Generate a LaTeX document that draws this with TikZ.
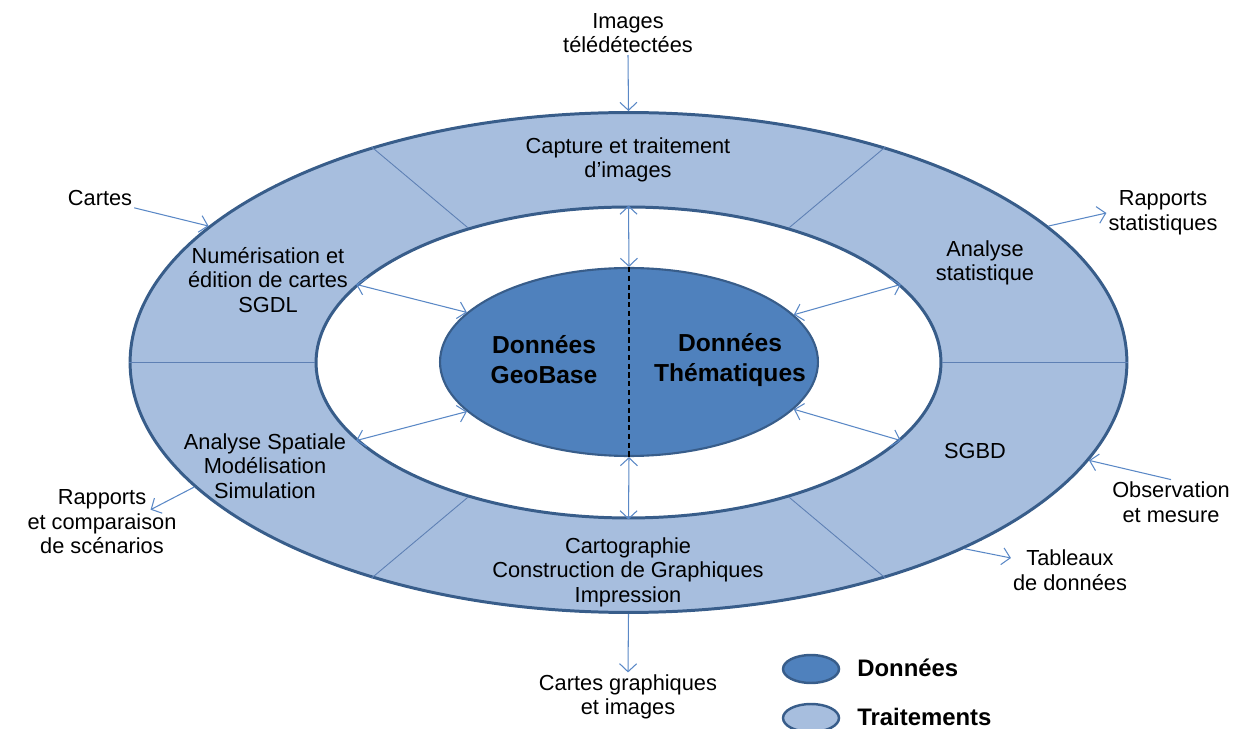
\documentclass[tikz,border=0pt]{standalone}
\usepackage{fontspec}
\setmainfont{Liberation Sans}
\usepackage{tikz}
\usetikzlibrary{shapes, arrows.meta, positioning}
\definecolor{ringfill}{HTML}{A7BEDE}
\definecolor{datafill}{HTML}{4F81BD}
\definecolor{edgeblue}{HTML}{385D8A}
\definecolor{arrowblue}{HTML}{5A88C6}
\definecolor{splitblue}{HTML}{5E80B4}
\tikzstyle{ring} = [ellipse, draw=edgeblue, line width=1.7pt, inner sep=0pt]
\tikzstyle{txt} = [align=center, inner sep=1pt]
\tikzstyle{bigtxt} = [align=center, font=\fontsize{14}{17}\selectfont\bfseries]
\tikzstyle{arrow} = [-{Straight Barb[length=1.6mm, width=3.4mm]}, draw=arrowblue, line width=0.6pt]
\tikzstyle{twoway} = [{Straight Barb[length=1.6mm, width=3.4mm]}-{Straight Barb[length=1.6mm, width=3.4mm]}, draw=arrowblue, line width=0.6pt]
\tikzstyle{split} = [draw=splitblue, line width=0.5pt]

\begin{document}
\begin{tikzpicture}[x=0.02cm, y=-0.02cm, font=\fontsize{12.4}{14}\selectfont]

    \useasboundingbox (0, 0) rectangle (1235, 729);

    \node (outer) [ring, fill=ringfill, minimum width=19.94cm, minimum height=10cm] at (628.5, 362.5) {};
    \node (inner) [ring, fill=white, minimum width=12.5cm, minimum height=6.22cm] at (628.5, 362.5) {};

    \draw [split] (inner.0) -- (outer.0);
    \draw [split] (inner.180) -- (outer.180);
    \draw [split] (inner.40) -- (outer.40);
    \draw [split] (inner.140) -- (outer.140);
    \draw [split] (inner.220) -- (outer.220);
    \draw [split] (inner.320) -- (outer.320);

    \node (core) [ellipse, draw=edgeblue, line width=1.2pt, fill=datafill, inner sep=0pt, minimum width=7.56cm, minimum height=3.76cm] at (629, 362) {};
    \draw [densely dashed, line width=0.6pt] (core.north) -- (core.south);

    \node (geo) [bigtxt] at (544, 360) {Données\\GeoBase};
    \node (them) [bigtxt] at (730, 360) {Données\\Thématiques};

    \node (capt) [txt] at (628, 160) {Capture et traitement\\d’images};
    \node (numer) [txt] at (268, 280) {Numérisation et\\édition de cartes\\SGDL};
    \node (astat) [txt] at (985, 263) {Analyse\\statistique};
    \node (sgbd) [txt] at (975, 451) {SGBD};
    \node (aspat) [txt] at (265, 466) {Analyse Spatiale\\Modélisation\\Simulation};
    \node (carto) [txt] at (628, 572) {Cartographie\\Construction de Graphiques\\Impression};

    \node (img) [txt] at (628, 33) {Images\\télédétectées};
    \node (cartes) [txt] at (100, 198) {Cartes};
    \node (rstat) [txt] at (1163, 213) {Rapports\\statistiques};
    \node (obs) [txt] at (1171, 502) {Observation\\et mesure};
    \node (tab) [txt] at (1070, 570) {Tableaux\\de données};
    \node (cgraph) [txt] at (628, 697) {Cartes graphiques\\et images};
    \node (rcomp) [txt] at (102, 522) {Rapports\\et comparaison\\de scénarios};

    \draw [arrow] (img.south) -- (outer.north);
    \draw [arrow] (cartes.south east) -- (outer.162);
    \draw [arrow] (outer.18) -- (rstat.west);
    \draw [arrow] (obs.north) -- (outer.-12);
    \draw [arrow] (outer.-29) -- ([yshift=0.24cm]tab.west);
    \draw [arrow] (outer.196) -- ([xshift=-0.56cm, yshift=-0.44cm]rcomp.north east);
    \draw [arrow] (outer.south) -- (cgraph.north);

    \draw [twoway] (inner.north) -- (core.north);
    \draw [twoway] (inner.south) -- (core.south);
    \draw [twoway] (inner.164) -- (core.163);
    \draw [twoway] (inner.16) -- (core.16);
    \draw [twoway] (inner.196) -- (core.197);
    \draw [twoway] (inner.-16) -- (core.-16);

    \node (keydata) [ellipse, draw=edgeblue, line width=1.4pt, fill=datafill, minimum width=1.12cm, minimum height=0.56cm, inner sep=0pt] at (811, 669) {};
    \node (keyproc) [ellipse, draw=edgeblue, line width=1.4pt, fill=ringfill, minimum width=1.12cm, minimum height=0.56cm, inner sep=0pt] at (811, 718) {};
    \node (keydatatxt) [font=\fontsize{13.6}{16}\selectfont\bfseries, anchor=west, inner sep=0pt] at (857, 668) {Données};
    \node (keyproctxt) [font=\fontsize{13.6}{16}\selectfont\bfseries, anchor=west, inner sep=0pt] at (857, 717) {Traitements};

\end{tikzpicture}
\end{document}
